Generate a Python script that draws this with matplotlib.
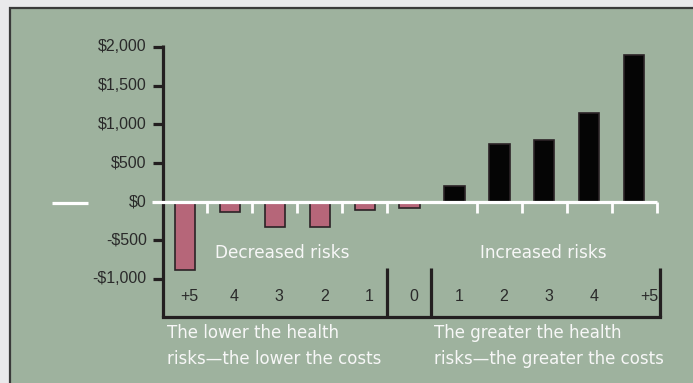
import matplotlib
matplotlib.use("Agg")
import matplotlib.pyplot as plt
from matplotlib.patches import Rectangle

# cost change per employee by number of health risks changed
risk_labels = ["+5", "4", "3", "2", "1", "0", "1", "2", "3", "4", "+5"]
cost_change = [-880, -130, -330, -325, -115, -85, 200, 750, 800, 1150, 1900]
bar_colors = ["#b66679"] * 6 + ["#050505"] * 5

ytick_values = [2000, 1500, 1000, 500, 0, -500, -1000]
ytick_labels = ["$2,000", "$1,500", "$1,000", "$500", "$0", "-$500", "-$1,000"]

GREEN = "#9eb29e"
DARK = "#231f20"
WHITE = "#f7f7f7"
NUMFONT = ["Liberation Sans", "DejaVu Sans"]

fig = plt.figure(figsize=(6.93, 3.83), dpi=100)
fig.patch.set_facecolor("#e9e9eb")

# green panel with its dark frame on top and left
fig.patches.append(Rectangle((10 / 693, -0.1), 1.2, (383 - 8) / 383 + 0.1,
                             transform=fig.transFigure, facecolor=GREEN,
                             edgecolor="#3a3a3a", linewidth=1.6, zorder=-10))

ax = fig.add_axes([0, 0, 1, 1])
ax.set_xlim(-4.12, 11.31)
ax.set_ylim(-2348, 2607)
ax.axis("off")

x = list(range(len(cost_change)))
ax.bar(x, cost_change, width=0.45, color=bar_colors, edgecolor="#2b2326",
       linewidth=1.2, zorder=2)

# y axis line extending down into the bracket
yx = -0.49
ax.plot([yx, yx], [2020, -1490], color=DARK, lw=2.3, solid_capstyle="butt", zorder=3)
ax.plot([yx, 10.58], [-1490, -1490], color=DARK, lw=2.3, solid_capstyle="projecting", zorder=3)
for sx in [4.49, 5.47, 10.58]:
    ax.plot([sx, sx], [-860, -1490], color=DARK, lw=2.3, solid_capstyle="butt", zorder=3)

for v, lab in zip(ytick_values, ytick_labels):
    if v != 0:
        ax.plot([yx - 0.23, yx], [v, v], color=DARK, lw=2.3, solid_capstyle="butt", zorder=3)
    ax.text(-0.85, v, lab, ha="right", va="center", fontsize=11.5,
            family=NUMFONT, color="#2a2a2a")

# white zero line with dividers between categories
ax.plot([-0.735, 10.5], [0, 0], color="white", lw=2.3, solid_capstyle="butt", zorder=4)
for k in range(11):
    if k == 5:
        continue
    ax.plot([k + 0.5, k + 0.5], [0, -155], color="white", lw=2.0,
            solid_capstyle="butt", zorder=4)
ax.plot([-2.96, -2.16], [-20, -20], color="white", lw=2.3, solid_capstyle="butt")

for i, lab in enumerate(risk_labels):
    if i == len(risk_labels) - 1:
        ax.text(10.53, -1235, lab, ha="right", va="center", fontsize=11.5,
                family=NUMFONT, color="#2a2a2a")
    else:
        ax.text(i + 0.1, -1235, lab, ha="center", va="center", fontsize=11.5,
                family=NUMFONT, color="#2a2a2a")

ax.text(2.16, -662, "Decreased risks", ha="center", va="center",
        fontsize=12.2, color=WHITE)
ax.text(7.97, -662, "Increased risks", ha="center", va="center",
        fontsize=12.2, color=WHITE)

ax.text(-0.4, -1701, "The lower the health", ha="left", va="center",
        fontsize=12, color=WHITE)
ax.text(-0.4, -2037, "risks\u2014the lower the costs", ha="left", va="center",
        fontsize=12, color=WHITE)
ax.text(5.55, -1701, "The greater the health", ha="left", va="center",
        fontsize=12, color=WHITE)
ax.text(5.55, -2037, "risks\u2014the greater the costs", ha="left", va="center",
        fontsize=12, color=WHITE)

fig.savefig("out.png", dpi=100, facecolor=fig.get_facecolor())
